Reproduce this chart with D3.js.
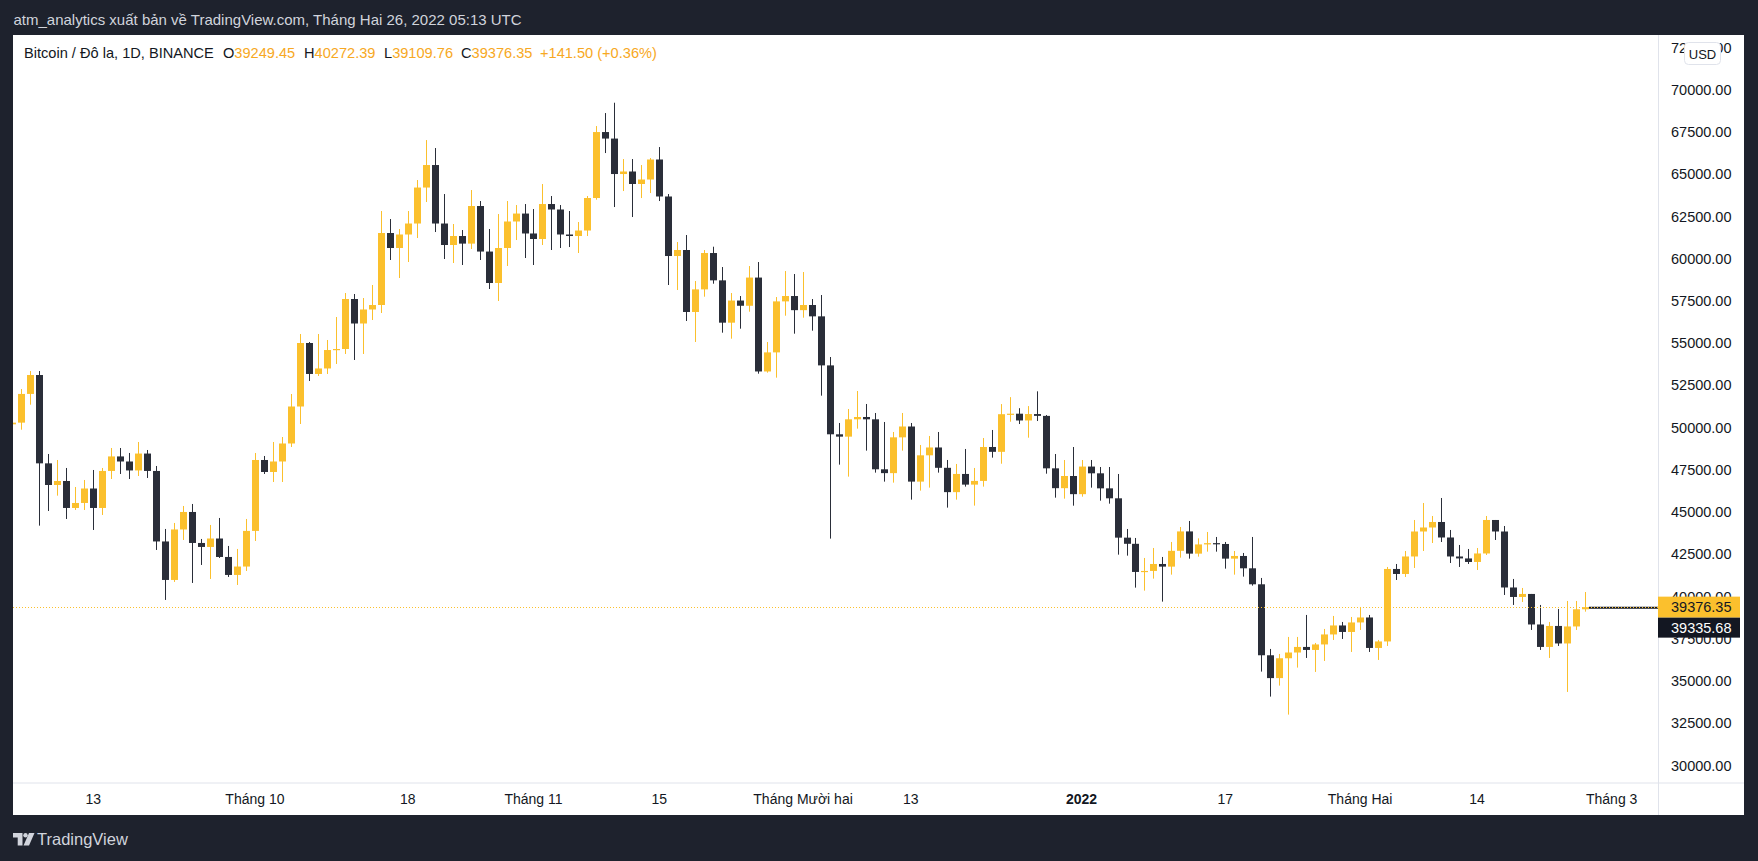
<!DOCTYPE html>
<html><head><meta charset="utf-8">
<script src="https://cdn.jsdelivr.net/npm/d3@7/dist/d3.min.js"></script>
<style>
html,body{margin:0;padding:0;background:#1e222d;overflow:hidden;}
svg{display:block;}
text{font-family:"Liberation Sans",Arial,sans-serif;}
</style></head>
<body>
<svg id="chart" width="1758" height="861"></svg>
<script>
const dates = [
"2021-09-04","2021-09-05","2021-09-06","2021-09-07","2021-09-08","2021-09-09","2021-09-10","2021-09-11","2021-09-12","2021-09-13","2021-09-14","2021-09-15","2021-09-16","2021-09-17","2021-09-18","2021-09-19","2021-09-20","2021-09-21","2021-09-22","2021-09-23","2021-09-24","2021-09-25","2021-09-26","2021-09-27","2021-09-28","2021-09-29","2021-09-30",
"2021-10-01","2021-10-02","2021-10-03","2021-10-04","2021-10-05","2021-10-06","2021-10-07","2021-10-08","2021-10-09","2021-10-10","2021-10-11","2021-10-12","2021-10-13","2021-10-14","2021-10-15","2021-10-16","2021-10-17","2021-10-18","2021-10-19","2021-10-20","2021-10-21","2021-10-22","2021-10-23","2021-10-24","2021-10-25","2021-10-26","2021-10-27","2021-10-28","2021-10-29","2021-10-30","2021-10-31",
"2021-11-01","2021-11-02","2021-11-03","2021-11-04","2021-11-05","2021-11-06","2021-11-07","2021-11-08","2021-11-09","2021-11-10","2021-11-11","2021-11-12","2021-11-13","2021-11-14","2021-11-15","2021-11-16","2021-11-17","2021-11-18","2021-11-19","2021-11-20","2021-11-21","2021-11-22","2021-11-23","2021-11-24","2021-11-25","2021-11-26","2021-11-27","2021-11-28","2021-11-29","2021-11-30",
"2021-12-01","2021-12-02","2021-12-03","2021-12-04","2021-12-05","2021-12-06","2021-12-07","2021-12-08","2021-12-09","2021-12-10","2021-12-11","2021-12-12","2021-12-13","2021-12-14","2021-12-15","2021-12-16","2021-12-17","2021-12-18","2021-12-19","2021-12-20","2021-12-21","2021-12-22","2021-12-23","2021-12-24","2021-12-25","2021-12-26","2021-12-27","2021-12-28","2021-12-29","2021-12-30","2021-12-31",
"2022-01-01","2022-01-02","2022-01-03","2022-01-04","2022-01-05","2022-01-06","2022-01-07","2022-01-08","2022-01-09","2022-01-10","2022-01-11","2022-01-12","2022-01-13","2022-01-14","2022-01-15","2022-01-16","2022-01-17","2022-01-18","2022-01-19","2022-01-20","2022-01-21","2022-01-22","2022-01-23","2022-01-24","2022-01-25","2022-01-26","2022-01-27","2022-01-28","2022-01-29","2022-01-30","2022-01-31",
"2022-02-01","2022-02-02","2022-02-03","2022-02-04","2022-02-05","2022-02-06","2022-02-07","2022-02-08","2022-02-09","2022-02-10","2022-02-11","2022-02-12","2022-02-13","2022-02-14","2022-02-15","2022-02-16","2022-02-17","2022-02-18","2022-02-19","2022-02-20","2022-02-21","2022-02-22","2022-02-23","2022-02-24","2022-02-25","2022-02-26"];

const open = [
50200,50300,52000,53120,47890,46609,46846,45248,45544,46400,45248,47440,48300,48000,47470,48470,47440,43265,40986,43975,45011,43176,42940,43440,42347,41282,41780,
43890,48089,47379,48000,49066,51256,55016,53182,53508,54600,54660,57621,56170,57000,57266,61528,60640,61440,62090,64220,65553,62090,60818,61350,60900,63126,60430,58568,60640,62210,62680,
61500,61173,63244,62920,61440,61350,61675,63600,67506,67120,65020,65170,64430,64695,65880,63690,60166,60522,56852,58190,60343,58725,56219,57530,57220,58890,53330,54460,57480,57797,
56960,57265,56594,53690,49610,49471,50497,50635,50497,47538,47311,49430,50072,46808,48366,48830,47626,46186,47262,46630,46850,48859,48572,50800,50830,50429,50809,50700,47595,46420,47141,
46066,47700,47300,46410,45820,43491,43126,41460,41520,41932,41775,42710,43860,42544,43090,43166,43116,42248,42406,41676,40729,36527,35175,36350,36690,37020,36842,37168,37760,38292,37907,
38470,38765,36960,37345,41637,41340,42376,43855,44092,44418,43500,42376,42260,42051,42554,44537,43855,40540,39979,40157,38350,37020,38263,37226,38233,39249.45];

const high = [
50450,52292,53357,53357,48444,48089,47616,46491,46905,47497,47616,48799,48799,48504,49155,48681,47734,44005,44360,45366,45485,43413,44242,44656,42999,42821,44597,
48504,48326,49155,49450,51996,55549,55075,55549,55194,56556,57976,57917,57680,58450,62830,62356,61764,62830,64665,67032,66559,63836,62061,61705,64073,63422,61764,62652,63422,63185,63244,
62948,64428,63718,63185,62830,62179,63718,67861,68631,69242,65908,65908,65553,65967,66618,63836,60995,61409,58687,60520,60717,59514,57975,57797,59573,59810,55075,57738,59277,59100,
59218,57620,57857,54187,50280,51109,52174,51405,50872,50339,49747,50872,50280,48978,49511,49747,48090,47854,48741,47617,49392,49866,51400,51810,51156,51281,52155,50750,48444,48089,48858,
48089,48089,47674,47674,47260,44004,43472,42288,42880,42347,43235,44123,44478,43450,43827,43531,43235,42702,42584,43531,41104,36901,36606,37612,37612,38914,37256,38085,38855,38499,38795,
39387,38914,37434,41755,41932,42702,44537,45543,44773,45839,43945,43057,42820,42879,44773,44537,44181,41045,40512,40157,39506,38499,39269,39742,39742,40272.39];

const low = [
50050,49884,51364,44202,45070,45978,44597,45130,45130,43946,44834,46964,47261,46964,47142,47024,42762,39803,40868,43354,40809,41874,41045,42288,41164,40690,41519,
43295,47261,46787,46787,48859,50221,52767,53064,53182,53774,54366,54011,54366,56378,56793,59930,58864,59811,61232,63363,61587,59989,59752,59634,60581,59930,58213,57503,59575,61113,60048,
59634,60818,60522,60640,60699,60344,61350,63500,66263,63067,64014,62475,63599,63895,63422,58450,58154,56319,55076,57758,58527,55627,55272,55864,56870,53200,53260,52964,56633,55568,
56515,55746,51898,43434,47814,47104,49945,48643,47341,46808,46749,48643,45742,46275,46453,47341,45269,45742,46512,45387,46512,48228,47869,50357,50219,49410,50397,47279,45859,45800,45385,
45918,46451,45681,45504,42485,42426,40532,40354,41065,39703,41301,42307,42248,42367,42662,42662,41656,41301,41183,40650,35560,34080,34731,33014,35797,36368,35540,36191,37434,37493,36724,
38026,36724,36250,37079,40985,41163,41696,42702,43175,43234,41991,41755,41932,41577,42465,43353,40097,39506,39683,38026,36842,36368,37079,34356,38026,39109.76];

const close = [
50300,52000,53120,47890,46609,46846,45248,45544,46400,45248,47440,48300,48000,47470,48470,47440,43265,40986,43975,45011,43176,42940,43440,42347,41282,41780,43890,
48089,47379,48000,49066,51256,55016,53182,53508,54600,54660,57621,56170,57000,57266,61528,60640,61440,62090,64220,65553,62090,60818,61350,60900,63126,60430,58568,60640,62210,62680,61500,
61173,63244,62920,61440,61350,61675,63600,67506,67120,65020,65170,64430,64695,65880,63690,60166,60522,56852,58190,60343,58725,56219,57530,57220,58890,53330,54460,57480,57797,56960,
57265,56594,53690,49610,49471,50497,50635,50497,47538,47311,49430,50072,46808,48366,48830,47626,46186,47262,46630,46850,48859,48572,50800,50830,50429,50809,50700,47595,46420,47141,46066,
47700,47300,46410,45820,43491,43126,41460,41520,41932,41775,42710,43860,42544,43090,43166,43116,42248,42406,41676,40729,36527,35175,36350,36690,37020,36842,37168,37760,38292,37907,38470,
38765,36960,37345,41637,41340,42376,43855,44092,44418,43500,42376,42260,42051,42554,44537,43855,40540,39979,40157,38350,37020,38263,37226,38233,39249.45,39376.35];

const priceTicks = [30000,32500,35000,37500,40000,42500,45000,47500,50000,52500,55000,57500,60000,62500,65000,67500,70000,72500];
const timeTickDates = ["2021-09-13","2021-10-01","2021-10-18","2021-11-01","2021-11-15","2021-12-01","2021-12-13","2022-01-01","2022-01-17","2022-02-01","2022-02-14","2022-03-01"];
const timeTickLabels = ["13","Tháng 10","18","Tháng 11","15","Tháng Mười hai","13","2022","17","Tháng Hai","14","Tháng 3"];
const boldTicks = ["2022"];

const lastPrice = 39376.35;
const lineLevel = 39335.68;
const headerText = "atm_analytics xuất bản về TradingView.com, Tháng Hai 26, 2022 05:13 UTC";
const legendTitle = "Bitcoin / Đô la, 1D, BINANCE";
const legendItems = [["O","39249.45"],["H","40272.39"],["L","39109.76"],["C","39376.35"]];
const legendChange = "+141.50 (+0.36%)";

const UP = "#fbc02d", DOWN = "#2a2e39", TXT = "#131722", GRID = "#e0e3eb";

const parse = d3.utcParse("%Y-%m-%d");
const data = dates.map((d,i)=>({date:parse(d),o:open[i],h:high[i],l:low[i],c:close[i]}));

const svg = d3.select("#chart");
const panel = {x:13, y:35, w:1731, h:780};
const plotRight = 1658, plotBottom = 782.5;

const x = d3.scaleUtc().domain([parse("2021-09-04"), parse("2022-03-01")]).range([12.35, 1611.7]);
const y = d3.scaleLinear().domain([30000, 72500]).range([765.5, 47.7]);

// header
svg.append("text").attr("x",13.5).attr("y",19).attr("dominant-baseline","central")
  .attr("fill","#d1d4dc").attr("font-size",15).text(headerText);

// white panel
svg.append("rect").attr("x",panel.x).attr("y",panel.y).attr("width",panel.w).attr("height",panel.h).attr("fill","#ffffff");

// axis separators
svg.append("line").attr("x1",plotRight+0.5).attr("x2",plotRight+0.5).attr("y1",panel.y).attr("y2",panel.y+panel.h).attr("stroke",GRID);
svg.append("line").attr("x1",panel.x).attr("x2",panel.x+panel.w).attr("y1",plotBottom+0.5).attr("y2",plotBottom+0.5).attr("stroke",GRID);

// clip
svg.append("clipPath").attr("id","plotclip").append("rect").attr("x",panel.x).attr("y",panel.y).attr("width",plotRight-panel.x).attr("height",plotBottom-panel.y);
const plot = svg.append("g").attr("clip-path","url(#plotclip)");

// candles
const bw = 7;
const cg = plot.selectAll("g.c").data(data).join("g").attr("class","c");
cg.append("rect")
  .attr("x",d=>Math.round(x(d.date))).attr("width",1)
  .attr("y",d=>y(d.h)).attr("height",d=>Math.max(1,y(d.l)-y(d.h)))
  .attr("fill",d=>d.c>=d.o?UP:DOWN);
cg.append("rect")
  .attr("x",d=>Math.round(x(d.date))-3).attr("width",bw)
  .attr("y",d=>y(Math.max(d.o,d.c))).attr("height",d=>Math.max(1.2,Math.abs(y(d.o)-y(d.c))))
  .attr("fill",d=>d.c>=d.o?UP:DOWN);

// horizontal ray (black) from last bar
const lastX = Math.round(x(data[data.length-1].date))+4;
plot.append("line").attr("x1",lastX).attr("x2",plotRight).attr("y1",y(lineLevel)).attr("y2",y(lineLevel))
  .attr("stroke","#131722").attr("stroke-width",2);
// last price dotted line
plot.append("line").attr("x1",panel.x).attr("x2",plotRight).attr("y1",Math.round(y(lastPrice))+0.5).attr("y2",Math.round(y(lastPrice))+0.5)
  .attr("stroke",UP).attr("stroke-width",1).attr("stroke-dasharray","1,2");

// price axis labels
const yAxis = svg.append("g");
yAxis.selectAll("text").data(priceTicks).join("text")
  .attr("x",1671).attr("y",d=>y(d)).attr("dominant-baseline","central")
  .attr("font-size",14.5).attr("fill",TXT).text(d=>d3.format(".2f")(d));

// USD button
svg.append("rect").attr("x",1684.5).attr("y",42.5).attr("width",36).attr("height",22).attr("rx",4)
  .attr("fill","#ffffff").attr("stroke","#e0e3eb");
svg.append("text").attr("x",1702.5).attr("y",54).attr("text-anchor","middle").attr("dominant-baseline","central")
  .attr("font-size",13).attr("fill",TXT).text("USD");

// price labels
const lpY = y(lastPrice);
svg.append("rect").attr("x",plotRight).attr("y",lpY-10.5).attr("width",1740-plotRight).attr("height",21).attr("fill",UP);
svg.append("text").attr("x",1671).attr("y",lpY).attr("dominant-baseline","central").attr("font-size",14.5).attr("fill",TXT).text(d3.format(".2f")(lastPrice));
svg.append("rect").attr("x",plotRight).attr("y",lpY+10.5).attr("width",1740-plotRight).attr("height",20).attr("fill","#131722");
svg.append("text").attr("x",1671).attr("y",lpY+20.5).attr("dominant-baseline","central").attr("font-size",14.5).attr("fill","#ffffff").text(d3.format(".2f")(lineLevel));

// time axis labels
svg.append("g").selectAll("text").data(timeTickDates).join("text")
  .attr("x",d=>x(parse(d))).attr("y",799).attr("text-anchor","middle").attr("dominant-baseline","central")
  .attr("font-size",14).attr("fill",TXT)
  .attr("font-weight",(d,i)=>boldTicks.includes(timeTickLabels[i])?"bold":"normal")
  .text((d,i)=>timeTickLabels[i]);

// legend
const lg = svg.append("text").attr("x",24).attr("y",53).attr("dominant-baseline","central").attr("font-size",14.6);
lg.append("tspan").attr("fill",TXT).text(legendTitle);
const legendX = [223,304,384,461];
legendItems.forEach((it,i)=>{
  const t = svg.append("text").attr("x",legendX[i]).attr("y",53).attr("dominant-baseline","central").attr("font-size",14.6);
  t.append("tspan").attr("fill",TXT).text(it[0]);
  t.append("tspan").attr("fill","#f7a823").text(it[1]);
});
svg.append("text").attr("x",540).attr("y",53).attr("dominant-baseline","central").attr("font-size",14.6).attr("fill","#f7a823").text(legendChange);

// TradingView footer logo
const logo = svg.append("g").attr("fill","#d1d4dc");
logo.append("path").attr("d","M13,833 h9.5 v12.5 h-4.8 v-8 h-4.7 z");
logo.append("circle").attr("cx",25.5).attr("cy",835.3).attr("r",2.2);
logo.append("path").attr("d","M29,833 h5.5 l-5.5,12.5 h-5.5 z");
svg.append("text").attr("x",37).attr("y",839).attr("dominant-baseline","central").attr("font-size",16.5).attr("fill","#d1d4dc").text("TradingView");
</script>
</body></html>
